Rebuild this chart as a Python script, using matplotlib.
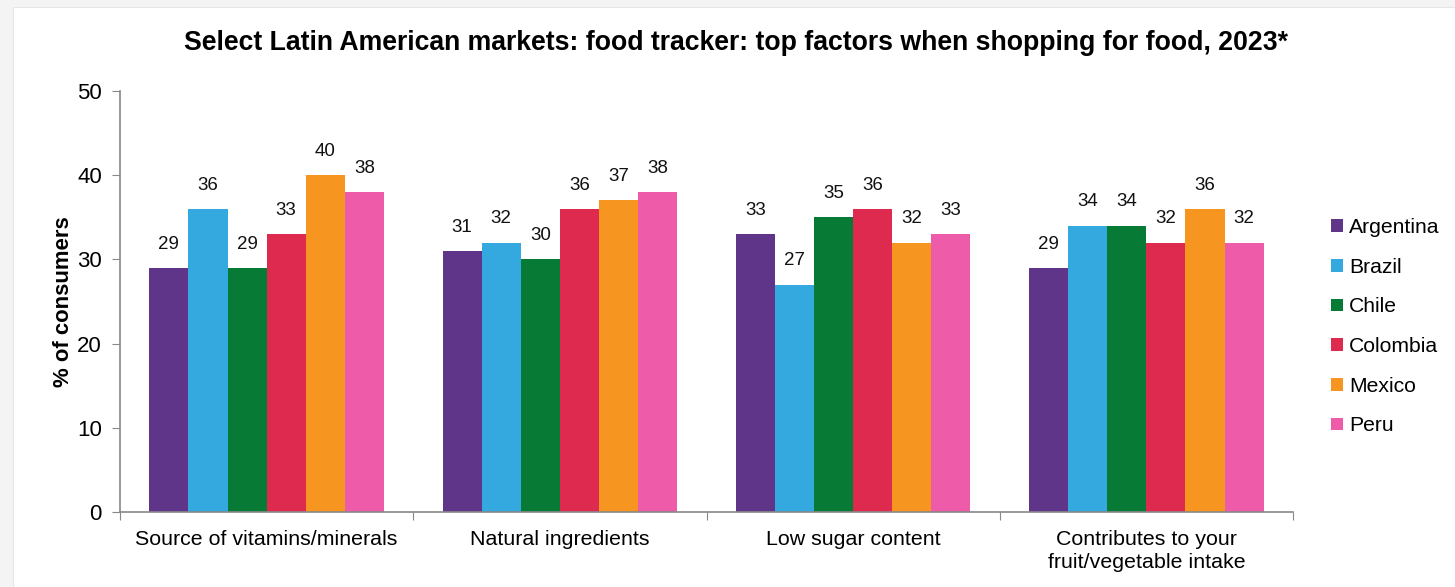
import numpy as np
import matplotlib.pyplot as plt
from matplotlib.patches import Rectangle

plt.rcParams['font.family'] = ['Liberation Sans', 'DejaVu Sans']

# Data
factors = ['Source of vitamins/minerals', 'Natural ingredients', 'Low sugar content',
           'Contributes to your\nfruit/vegetable intake']
countries = ['Argentina', 'Brazil', 'Chile', 'Colombia', 'Mexico', 'Peru']
argentina = [29, 31, 33, 29]
brazil = [36, 32, 27, 34]
chile = [29, 30, 35, 34]
colombia = [33, 36, 36, 32]
mexico = [40, 37, 32, 36]
peru = [38, 38, 33, 32]
colors = ['#5f358a', '#33a9df', '#077a35', '#de2a4e', '#f79521', '#ee5ba9']

series = [argentina, brazil, chile, colombia, mexico, peru]

fig = plt.figure(figsize=(14.55, 5.87), dpi=100, facecolor='#f4f4f4')
# white card behind the chart
fig.patches.append(Rectangle((13 / 1455, 0), 1 - 13 / 1455, 1 - 7 / 587,
                             transform=fig.transFigure, facecolor='white',
                             edgecolor='#e6e6e6', lw=0.8, zorder=-5))

ax = fig.add_axes([120 / 1455, 1 - 512 / 587, (1293 - 120) / 1455, (512 - 91) / 587])
ax.set_facecolor('none')

x = np.arange(len(factors))
width = 0.8 / len(countries)
for i, (name, vals, c) in enumerate(zip(countries, series, colors)):
    pos = x - 0.4 + width * (i + 0.5)
    bars = ax.bar(pos, vals, width, color=c, label=name, zorder=2)
    for b, v in zip(bars, vals):
        ax.annotate(str(v), (b.get_x() + b.get_width() / 2, v), xytext=(0, 11),
                    textcoords='offset points', ha='center', va='bottom',
                    fontsize=13.5, color='#111111')

ax.set_xlim(-0.5, len(factors) - 0.5)
ax.set_ylim(0, 50)
ax.set_yticks(range(0, 51, 10))
ax.tick_params(axis='y', labelsize=16, length=6, color='#888888', pad=7)

# category separators as major ticks, labels on minor ticks
ax.set_xticks(np.arange(-0.5, len(factors), 1))
ax.set_xticklabels([])
ax.tick_params(axis='x', which='major', length=6, color='#888888')
ax.set_xticks(x, minor=True)
ax.set_xticklabels(factors, minor=True, fontsize=15.4, linespacing=1.25)
ax.tick_params(axis='x', which='minor', length=0, pad=13)

for s in ['top', 'right']:
    ax.spines[s].set_visible(False)
for s in ['left', 'bottom']:
    ax.spines[s].set_color('#888888')
    ax.spines[s].set_linewidth(1.2)

ax.set_ylabel('% of consumers', fontsize=15.9, fontweight='bold', labelpad=2)
fig.text(736.5 / 1455, 1 - 43 / 587,
         'Select Latin American markets: food tracker: top factors when shopping for food, 2023*',
         ha='center', va='center', fontsize=19.2, fontweight='bold')

ax.legend(loc='center left', bbox_to_anchor=(1.0165, 0.44), frameon=False, fontsize=15.2,
          handlelength=0.55, handleheight=0.55, handletextpad=0.3, labelspacing=0.98)

fig.savefig('out.png', dpi=100, facecolor=fig.get_facecolor())
